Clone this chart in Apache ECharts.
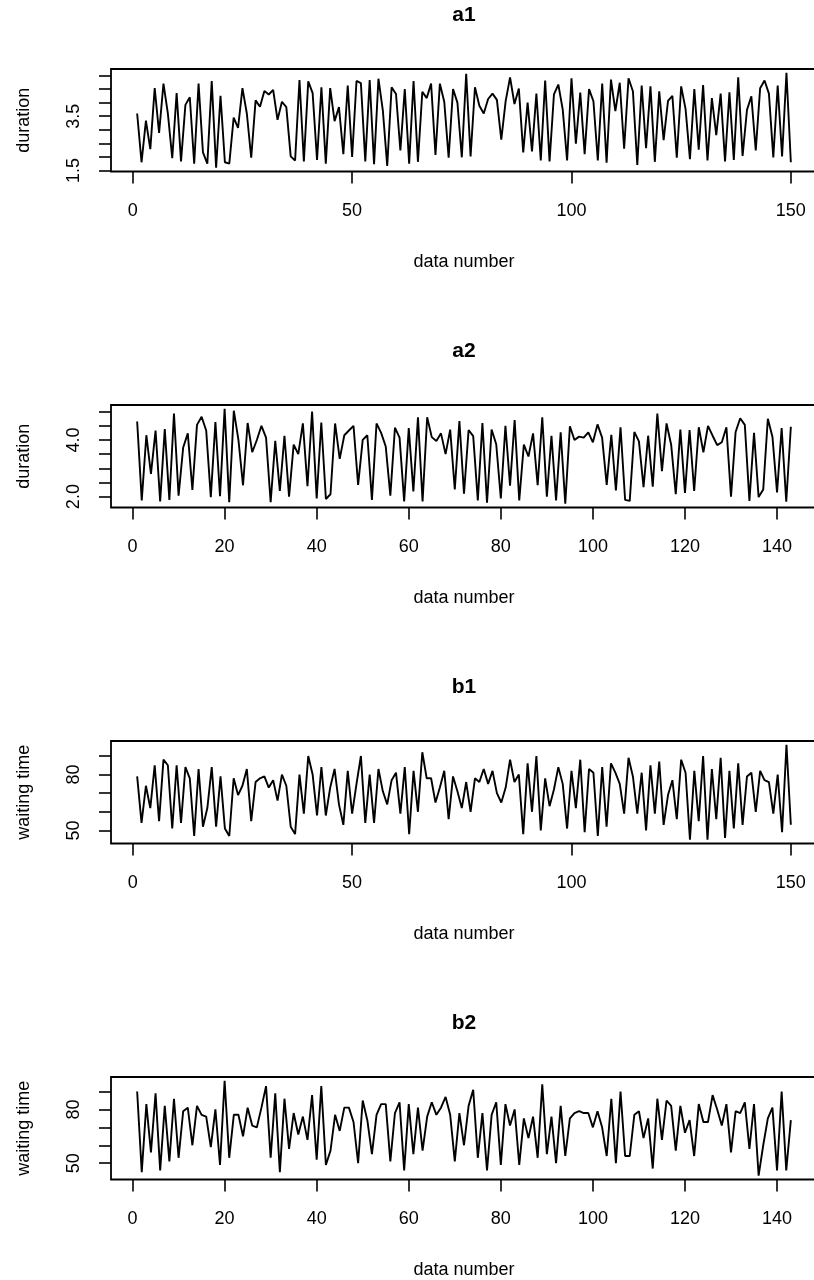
<!DOCTYPE html>
<html>
<head>
<meta charset="utf-8">
<script src="https://cdn.jsdelivr.net/npm/echarts@6/dist/echarts.min.js"></script>
<style>html,body{margin:0;padding:0;background:#fff;}#c{width:814px;height:1280px;}</style>
</head>
<body>
<div id="c"></div>
<script>
// Old Faithful: eruption duration (a) and waiting time (b)
const a1 = [3.600,1.800,3.333,2.283,4.533,2.883,4.700,3.600,1.950,4.350,
1.833,3.917,4.200,1.750,4.700,2.167,1.750,4.800,1.600,4.250,
1.800,1.750,3.450,3.067,4.533,3.600,1.967,4.083,3.850,4.433,
4.300,4.467,3.367,4.033,3.833,2.017,1.867,4.833,1.833,4.783,
4.350,1.883,4.567,1.750,4.533,3.317,3.833,2.100,4.633,2.000,
4.800,4.716,1.833,4.833,1.733,4.883,3.717,1.667,4.567,4.317,
2.233,4.500,1.750,4.800,1.817,4.400,4.167,4.700,2.067,4.700,
4.033,1.967,4.500,4.000,1.983,5.067,2.017,4.567,3.883,3.600,
4.133,4.333,4.100,2.633,4.067,4.933,3.950,4.517,2.167,4.000,
2.200,4.333,1.867,4.817,1.833,4.300,4.667,3.750,1.867,4.900,
2.483,4.367,2.100,4.500,4.050,1.867,4.700,1.783,4.850,3.683,
4.733,2.300,4.900,4.417,1.700,4.633,2.317,4.600,1.817,4.417,
2.617,4.067,4.250,1.967,4.600,3.767,1.917,4.500,2.267,4.650,
1.867,4.167,2.800,4.333,1.833,4.383,1.883,4.933,2.033,3.733,
4.233,2.233,4.533,4.817,4.333,1.983,4.633,2.017,5.100,1.800];

const a2 = [4.650,1.867,4.167,2.800,4.333,1.833,4.383,1.883,4.933,2.033,
3.733,4.233,2.233,4.533,4.817,4.333,1.983,4.633,2.017,5.100,
1.800,5.033,4.000,2.400,4.600,3.567,4.000,4.500,4.083,1.800,
3.967,2.200,4.150,2.000,3.833,3.500,4.583,2.367,5.000,1.933,
4.617,1.917,2.083,4.583,3.333,4.167,4.333,4.500,2.417,4.000,
4.167,1.883,4.583,4.250,3.767,2.033,4.433,4.083,1.833,4.417,
2.183,4.800,1.833,4.800,4.100,3.966,4.233,3.500,4.366,2.250,
4.667,2.100,4.350,4.133,1.867,4.600,1.783,4.367,3.850,1.933,
4.500,2.383,4.700,1.867,3.833,3.417,4.233,2.400,4.800,2.000,
4.150,1.867,4.267,1.750,4.483,4.000,4.117,4.083,4.267,3.917,
4.550,4.083,2.417,4.183,2.217,4.450,1.883,1.850,4.283,3.950,
2.333,4.150,2.350,4.933,2.900,4.583,3.833,2.083,4.367,2.133,
4.350,2.200,4.450,3.567,4.500,4.150,3.817,3.917,4.450,2.000,
4.283,4.767,4.533,1.850,4.250,1.983,2.250,4.750,4.117,2.150,
4.417,1.817,4.467];

const b1 = [79,54,74,62,85,55,88,85,51,85,
54,84,78,47,83,52,62,84,52,79,
51,47,78,69,74,83,55,76,78,79,
73,77,66,80,74,52,48,80,59,90,
80,58,84,58,73,83,64,53,82,59,
75,90,54,80,54,83,71,64,77,81,
59,84,48,82,60,92,78,78,65,73,
82,56,79,71,62,76,60,78,76,83,
75,82,70,65,73,88,76,80,48,86,
60,90,50,78,63,72,84,75,51,82,
62,88,49,83,81,47,84,52,86,81,
75,59,89,79,59,81,50,85,59,87,
53,69,77,56,88,81,45,82,55,90,
45,83,56,89,46,82,51,86,53,79,
81,60,82,77,76,59,80,49,96,53];

const b2 = [90,45,83,56,89,46,82,51,86,53,
79,81,60,82,77,76,59,80,49,96,
53,77,77,65,81,71,70,81,93,53,
89,45,86,58,78,66,76,63,88,52,
93,49,57,77,68,81,81,73,50,85,
74,55,77,83,83,51,78,84,46,83,
55,81,57,76,84,77,81,87,77,51,
78,60,82,91,53,78,46,77,84,49,
83,71,80,49,75,64,76,53,94,55,
76,50,82,54,75,78,79,78,78,70,
79,70,54,86,50,90,54,54,77,79,
64,75,47,86,63,85,82,57,82,67,
74,54,83,73,73,88,80,71,83,56,
79,78,84,58,83,43,60,75,81,46,
90,46,74];

const panelTitles = ['a1', 'a2', 'b1', 'b2'];
const yNames = ['duration', 'duration', 'waiting time', 'waiting time'];
const xName = 'data number';
const yTicksA1 = [1.5, 2, 2.5, 3, 3.5, 4, 4.5, 5];
const yLabelsA1 = [1.5, 3.5];
const yTicksA2 = [2, 2.5, 3, 3.5, 4, 4.5, 5];
const yLabelsA2 = [2, 4];
const yTicksB = [50, 60, 70, 80, 90];
const yLabelsB = [50, 80];
const xTicks150 = [0, 50, 100, 150];
const xTicks143 = [0, 20, 40, 60, 80, 100, 120, 140];

const FONT = '"Liberation Sans", Arial, Helvetica, sans-serif';
const series = [a1, a2, b1, b2];
const yTicks = [yTicksA1, yTicksA2, yTicksB, yTicksB];
const yLabels = [yLabelsA1, yLabelsA2, yLabelsB, yLabelsB];
const xTicks = [xTicks150, xTicks143, xTicks150, xTicks143];
const yFmt = [v => v.toFixed(1), v => v.toFixed(1), v => String(v), v => String(v)];

const tops = [69, 405, 741, 1077];
const H = 102.5;
const ext = e => e.max - e.min;

const chart = echarts.init(document.getElementById('c'), null, {renderer: 'canvas'});
const opt = {
  backgroundColor: '#fff',
  animation: false,
  title: [], grid: [], xAxis: [], yAxis: [], series: []
};
for (let i = 0; i < 4; i++) {
  opt.title.push({
    text: panelTitles[i], left: 464, top: tops[i] - 65, textAlign: 'center', padding: 0,
    textStyle: {fontFamily: FONT, fontWeight: 'bold', fontSize: 21, lineHeight: 22, color: '#000'}
  });
  opt.grid.push({
    left: 111, top: tops[i], width: 706, height: H,
    show: true, borderColor: '#000', borderWidth: 1.8, backgroundColor: 'transparent',
    containLabel: false, outerBoundsMode: 'none'
  });
  opt.xAxis.push({
    type: 'value', gridIndex: i,
    min: e => e.min - 0.04 * ext(e), max: e => e.max + 0.04 * ext(e),
    name: xName, nameLocation: 'middle', nameGap: 82, nameMoveOverlap: false,
    nameTextStyle: {fontFamily: FONT, fontSize: 18, color: '#000'},
    axisLine: {show: false, onZero: false},
    axisTick: {show: true, inside: false, length: 12, customValues: xTicks[i], lineStyle: {color: '#000', width: 1.6}},
    axisLabel: {show: true, margin: 31, customValues: xTicks[i], fontFamily: FONT, fontSize: 18, color: '#000', showMinLabel: true, showMaxLabel: true, hideOverlap: false},
    splitLine: {show: false}
  });
  opt.yAxis.push({
    type: 'value', gridIndex: i,
    min: e => e.min - 0.04 * ext(e), max: e => e.max + 0.04 * ext(e),
    name: yNames[i], nameLocation: 'middle', nameGap: 78, nameRotate: 90, nameMoveOverlap: false,
    nameTextStyle: {fontFamily: FONT, fontSize: 18, color: '#000'},
    axisLine: {show: false, onZero: false},
    axisTick: {show: true, inside: false, length: 12, customValues: yTicks[i], lineStyle: {color: '#000', width: 1.6}},
    axisLabel: {show: true, rotate: 90, margin: 28, customValues: yLabels[i], formatter: yFmt[i], fontFamily: FONT, fontSize: 18, color: '#000', showMinLabel: true, showMaxLabel: true, hideOverlap: false},
    splitLine: {show: false}
  });
  opt.series.push({
    type: 'line', xAxisIndex: i, yAxisIndex: i,
    data: series[i].map((v, k) => [k + 1, v]),
    showSymbol: false, symbol: 'none',
    lineStyle: {color: '#000', width: 1.9}, silent: true
  });
}
chart.setOption(opt);
</script>
</body>
</html>
